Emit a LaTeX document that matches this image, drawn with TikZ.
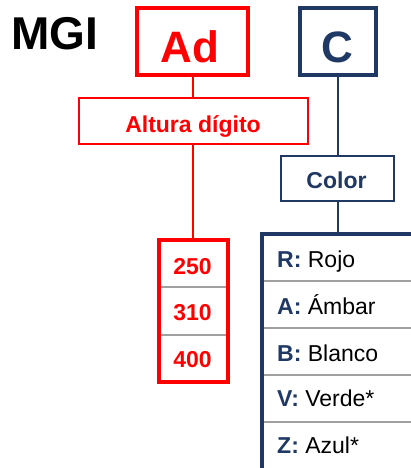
\documentclass[tikz,border=0pt]{standalone}
\usepackage{fontspec}
\setmainfont{Liberation Sans}
\definecolor{navy}{RGB}{31,56,100}
\definecolor{rojo}{RGB}{255,0,0}
\definecolor{divgray}{RGB}{160,160,160}
\begin{document}
\begin{tikzpicture}[x=1pt,y=-1pt,
  bigbox/.style={draw, line width=4pt, minimum width=#1, minimum height=67pt, inner sep=0pt},
  thinbox/.style={draw, line width=2pt, inner sep=0pt},
  big/.style={font=\fontsize{44}{44}\selectfont\bfseries, inner sep=0pt, anchor=base},
  small/.style={font=\fontsize{23}{23}\selectfont, inner sep=0pt},
  conn/.style={line width=2pt},
  divider/.style={draw=divgray, line width=2pt}]
\useasboundingbox (0,0) rectangle (411,468);
\begin{scope}
\clip (0,0) rectangle (411,468);
% title
\node[font=\fontsize{46}{46}\selectfont\bfseries, inner sep=0pt, anchor=base west] (mgi) at (11,50) {MGI};
% top boxes
\node[bigbox=111pt, draw=rojo] (ad) at (192.5,41.5) {};
\node[big, text=rojo] (adt) at (190,63) {Ad};
\node[bigbox=76pt, draw=navy] (c) at (337.5,41.5) {};
\node[big, text=navy] (ct) at (337.5,63) {C};
% second level
\node[thinbox, draw=rojo, minimum width=229pt, minimum height=46pt] (alt) at (193.5,121) {};
\node[small, font=\fontsize{23}{23}\selectfont\bfseries, text=rojo, anchor=base] (altt) at (193,132) {Altura dígito};
\node[thinbox, draw=navy, minimum width=113pt, minimum height=45pt] (col) at (337.5,178.5) {};
\node[small, font=\fontsize{23}{23}\selectfont\bfseries, text=navy, anchor=base] (colt) at (336.5,188) {Color};
% value box
\node[draw=rojo, line width=4pt, minimum width=69pt, minimum height=142pt, inner sep=0pt] (val) at (193.5,311) {};
\draw[divider] (161,287) -- (226,287);
\draw[divider] (161,335) -- (226,335);
\draw[draw=rojo, line width=4pt] (159,240) rectangle (228,382);
\node[small, font=\fontsize{23}{23}\selectfont\bfseries, text=rojo, anchor=base] (v1) at (192.5,274) {250};
\node[small, font=\fontsize{23}{23}\selectfont\bfseries, text=rojo, anchor=base] (v2) at (192.5,320.5) {310};
\node[small, font=\fontsize{23}{23}\selectfont\bfseries, text=rojo, anchor=base] (v3) at (192.5,367) {400};
% colour list
\node[draw=navy, line width=3.5pt, minimum width=220pt, minimum height=280pt, inner sep=0pt, anchor=north west] (list) at (260.25,232.25) {};
\draw[divider] (264,281) -- (420,281);
\draw[divider] (264,328) -- (420,328);
\draw[divider] (264,375) -- (420,375);
\draw[divider] (264,422) -- (420,422);
\draw[draw=navy, line width=3.5pt] (262,480) -- (262,234) -- (420,234);
\node[small, anchor=base west] (r1) at (277,267) {\textbf{\color{navy}R:} Rojo};
\node[small, anchor=base west] (r2) at (277,314.3) {\textbf{\color{navy}A:} Ámbar};
\node[small, anchor=base west] (r3) at (277,361) {\textbf{\color{navy}B:} Blanco};
\node[small, anchor=base west] (r4) at (277,406) {\textbf{\color{navy}V:} Verde*};
\node[small, anchor=base west] (r5) at (277,453) {\textbf{\color{navy}Z:} Azul*};
% connectors
\draw[conn, draw=rojo] (ad.south) -- (ad.south |- alt.north);
\draw[conn, draw=rojo] (alt.south -| ad.south) -- (ad.south |- val.north);
\draw[conn, draw=navy] (c.south) -- (c.south |- col.north);
\draw[conn, draw=navy] (col.south) -- (col.south |- list.north);
\end{scope}
\end{tikzpicture}
\end{document}
